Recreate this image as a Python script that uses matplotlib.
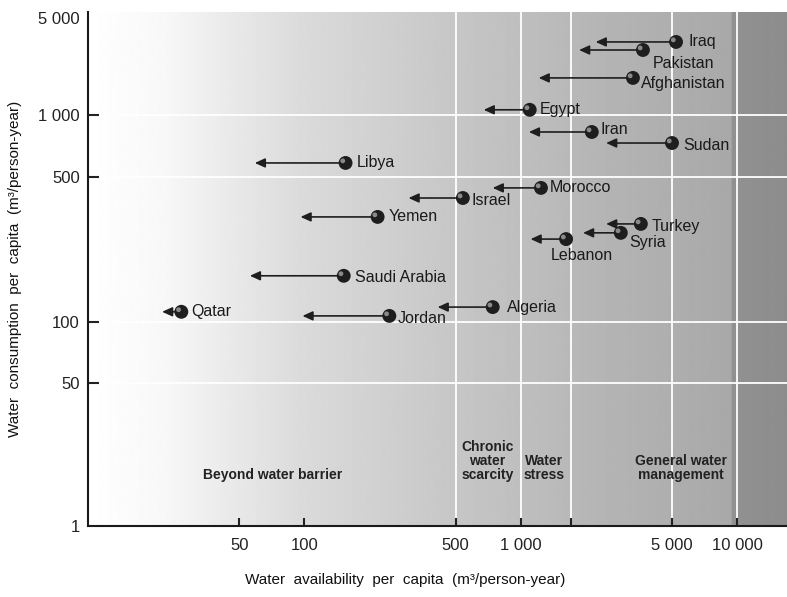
import numpy as np
import matplotlib.pyplot as plt
from matplotlib.transforms import offset_copy

plt.rcParams['font.family'] = ['Liberation Sans', 'DejaVu Sans']

# Data
countries = ['Iraq', 'Pakistan', 'Afghanistan', 'Egypt', 'Iran', 'Sudan',
             'Libya', 'Morocco', 'Israel', 'Yemen', 'Turkey', 'Syria',
             'Lebanon', 'Saudi Arabia', 'Algeria', 'Qatar', 'Jordan']
avail_now = [5220, 3670, 3300, 1100, 2130, 5000, 155, 1240, 540, 218,
             3590, 2900, 1620, 152, 742, 27, 247]
avail_future = [2220, 1860, 1210, 674, 1090, 2480, 59, 742, 303, 96,
                2480, 1940, 1110, 56, 413, 22, 98]
consumption = [3360, 2940, 1850, 1090, 827, 731, 585, 443, 396, 321,
               297, 269, 251, 167, 118, 112, 107]

x_ticks = [50, 100, 500, 1000, 1700, 5000, 10000]
x_ticklabels = ['50', '100', '500', '1 000', '', '5 000', '10 000']
y_ticks = [1, 50, 100, 500, 1000, 5000]
y_ticklabels = ['1', '50', '100', '500', '1 000', '5 000']

zones = ['Beyond water barrier', 'Chronic\nwater\nscarcity', 'Water\nstress',
         'General water\nmanagement']
zone_x = [71, 703, 1280, 5500]

# label offsets (points) relative to the marker
label_offsets = {
    'Iraq': (9, 0), 'Pakistan': (7, -10), 'Afghanistan': (6, -4),
    'Egypt': (7, 0), 'Iran': (6, 2), 'Sudan': (8, -2), 'Libya': (8, 0),
    'Morocco': (6, 0), 'Israel': (6, -2), 'Yemen': (8, 0), 'Turkey': (8, -2),
    'Syria': (6, -7), 'Lebanon': (-11, -12), 'Saudi Arabia': (8, -1),
    'Algeria': (10, 0), 'Qatar': (7, 0), 'Jordan': (6, -2),
}

# the printed y axis is a compressed (broken) log scale
y_logs = [0, np.log10(50), 2, np.log10(500), 3, np.log10(5000), 4]
y_pos = [0, 143, 204, 349, 411, 508, 550]


def y_fwd(v):
    return np.interp(np.log10(np.clip(v, 1e-6, None)), y_logs, y_pos)


def y_inv(p):
    return 10 ** np.interp(p, y_pos, y_logs)


fig = plt.figure(figsize=(7.87, 5.97), dpi=100)
ax = fig.add_axes([88 / 787, 71 / 597, 699 / 787, 514 / 597])
ax.set_xscale('log')
ax.set_yscale('function', functions=(y_fwd, y_inv))
ax.set_xlim(10, 17000)
ax.set_ylim(1, 5520)

# shaded background, white on the left getting darker to the right
frac = np.linspace(0, 1, 700)
shade = np.interp(frac, [0, 0.11, 0.3, 0.52, 0.73, 0.921, 0.922, 1.0],
                  [1.0, 0.97, 0.86, 0.78, 0.71, 0.66, 0.57, 0.55])
ax.imshow(np.tile(shade, (2, 1)), cmap='gray', vmin=0, vmax=1,
          extent=[0, 1, 0, 1], transform=ax.transAxes, aspect='auto',
          zorder=0, interpolation='bilinear')

for v in [500, 1000, 1700, 5000, 10000]:
    ax.axvline(v, color='white', lw=1.3, zorder=1)
for v in [50, 100, 500, 1000]:
    ax.axhline(v, color='white', lw=1.3, zorder=1)

# arrows from current to future availability
for xn, xf, yc in zip(avail_now, avail_future, consumption):
    ax.annotate('', xy=(xf, yc), xytext=(xn, yc),
                arrowprops=dict(arrowstyle='-|>,head_length=0.55,head_width=0.25',
                                color='#1e1e1e', lw=1.2, mutation_scale=11,
                                shrinkA=0, shrinkB=0), zorder=3)

ax.scatter(avail_now, consumption, s=100, color='#1e1e1e', zorder=4,
           edgecolors='none')
hl = offset_copy(ax.transData, fig=fig, x=-2, y=1.5, units='points')
ax.scatter(avail_now, consumption, s=12, color='#8a8a8a', zorder=5,
           edgecolors='none', transform=hl)

for name, xn, yc in zip(countries, avail_now, consumption):
    dx, dy = label_offsets[name]
    ax.annotate(name, (xn, yc), xytext=(dx, dy), textcoords='offset points',
                ha='left', va='center', fontsize=11.5, color='#1a1a1a',
                zorder=6)

for txt, zx in zip(zones, zone_x):
    ax.text(zx, 3.3, txt, ha='center', va='bottom', fontsize=10,
            fontweight='bold', color='#222222', linespacing=1.0, zorder=6)

ax.set_xticks(x_ticks)
ax.set_xticklabels(x_ticklabels)
ax.set_yticks(y_ticks)
ax.set_yticklabels(y_ticklabels)
ax.xaxis.set_minor_locator(plt.NullLocator())
ax.tick_params(axis='x', direction='in', length=6, width=1.5, pad=9,
               labelsize=12, colors='#222222')
ax.tick_params(axis='y', direction='in', length=8, width=1.5, pad=6,
               labelsize=12, colors='#222222')
ax.yaxis.get_major_ticks()[-1].tick1line.set_visible(False)
ax.yaxis.get_major_ticks()[0].tick1line.set_visible(False)

for side in ['top', 'right']:
    ax.spines[side].set_visible(False)
for side in ['left', 'bottom']:
    ax.spines[side].set_linewidth(1.5)
    ax.spines[side].set_color('#1a1a1a')

fig.text(405 / 787, 1 - 580 / 597,
         'Water  availability  per  capita  (m\u00b3/person-year)',
         ha='center', va='center', fontsize=11, color='#111111')
fig.text(15 / 787, 1 - 269 / 597,
         'Water  consumption  per  capita  (m\u00b3/person-year)',
         ha='center', va='center', rotation=90, fontsize=11, color='#111111')

fig.savefig('out.png', dpi=100)
